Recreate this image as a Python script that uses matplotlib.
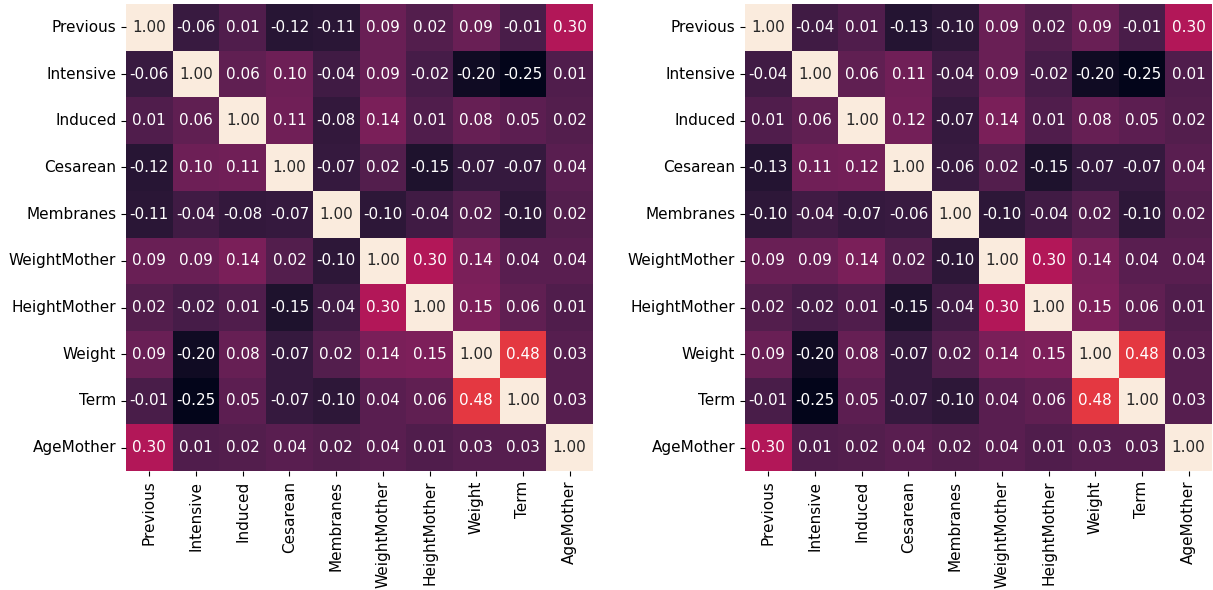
import numpy as np
import matplotlib
matplotlib.use("Agg")
import matplotlib.pyplot as plt
import seaborn as sns

labels = ["Previous", "Intensive", "Induced", "Cesarean", "Membranes",
          "WeightMother", "HeightMother", "Weight", "Term", "AgeMother"]

corr_left = [
    [1.00, -0.06, 0.01, -0.12, -0.11, 0.09, 0.02, 0.09, -0.01, 0.30],
    [-0.06, 1.00, 0.06, 0.10, -0.04, 0.09, -0.02, -0.20, -0.25, 0.01],
    [0.01, 0.06, 1.00, 0.11, -0.08, 0.14, 0.01, 0.08, 0.05, 0.02],
    [-0.12, 0.10, 0.11, 1.00, -0.07, 0.02, -0.15, -0.07, -0.07, 0.04],
    [-0.11, -0.04, -0.08, -0.07, 1.00, -0.10, -0.04, 0.02, -0.10, 0.02],
    [0.09, 0.09, 0.14, 0.02, -0.10, 1.00, 0.30, 0.14, 0.04, 0.04],
    [0.02, -0.02, 0.01, -0.15, -0.04, 0.30, 1.00, 0.15, 0.06, 0.01],
    [0.09, -0.20, 0.08, -0.07, 0.02, 0.14, 0.15, 1.00, 0.48, 0.03],
    [-0.01, -0.25, 0.05, -0.07, -0.10, 0.04, 0.06, 0.48, 1.00, 0.03],
    [0.30, 0.01, 0.02, 0.04, 0.02, 0.04, 0.01, 0.03, 0.03, 1.00],
]

corr_right = [
    [1.00, -0.04, 0.01, -0.13, -0.10, 0.09, 0.02, 0.09, -0.01, 0.30],
    [-0.04, 1.00, 0.06, 0.11, -0.04, 0.09, -0.02, -0.20, -0.25, 0.01],
    [0.01, 0.06, 1.00, 0.12, -0.07, 0.14, 0.01, 0.08, 0.05, 0.02],
    [-0.13, 0.11, 0.12, 1.00, -0.06, 0.02, -0.15, -0.07, -0.07, 0.04],
    [-0.10, -0.04, -0.07, -0.06, 1.00, -0.10, -0.04, 0.02, -0.10, 0.02],
    [0.09, 0.09, 0.14, 0.02, -0.10, 1.00, 0.30, 0.14, 0.04, 0.04],
    [0.02, -0.02, 0.01, -0.15, -0.04, 0.30, 1.00, 0.15, 0.06, 0.01],
    [0.09, -0.20, 0.08, -0.07, 0.02, 0.14, 0.15, 1.00, 0.48, 0.03],
    [-0.01, -0.25, 0.05, -0.07, -0.10, 0.04, 0.06, 0.48, 1.00, 0.03],
    [0.30, 0.01, 0.02, 0.04, 0.02, 0.04, 0.01, 0.03, 0.03, 1.00],
]

plt.rcParams['font.family'] = ['DejaVu Sans']
W, H = 1213, 590
fig = plt.figure(figsize=(W / 100, H / 100), dpi=100)

boxes = [(126, 4, 467, 467), (745, 4, 467, 467)]
for (x0, y0, w, h), data in zip(boxes, [corr_left, corr_right]):
    ax = fig.add_axes([x0 / W, 1 - (y0 + h) / H, w / W, h / H])
    sns.heatmap(np.array(data), ax=ax, annot=True, fmt=".2f", cbar=False,
                xticklabels=labels, yticklabels=labels,
                annot_kws={"size": 11})
    ax.tick_params(axis='both', labelsize=11)
    ax.set_xticklabels(labels, rotation=90)
    ax.set_yticklabels(labels, rotation=0)

fig.savefig("out.png", dpi=100)
